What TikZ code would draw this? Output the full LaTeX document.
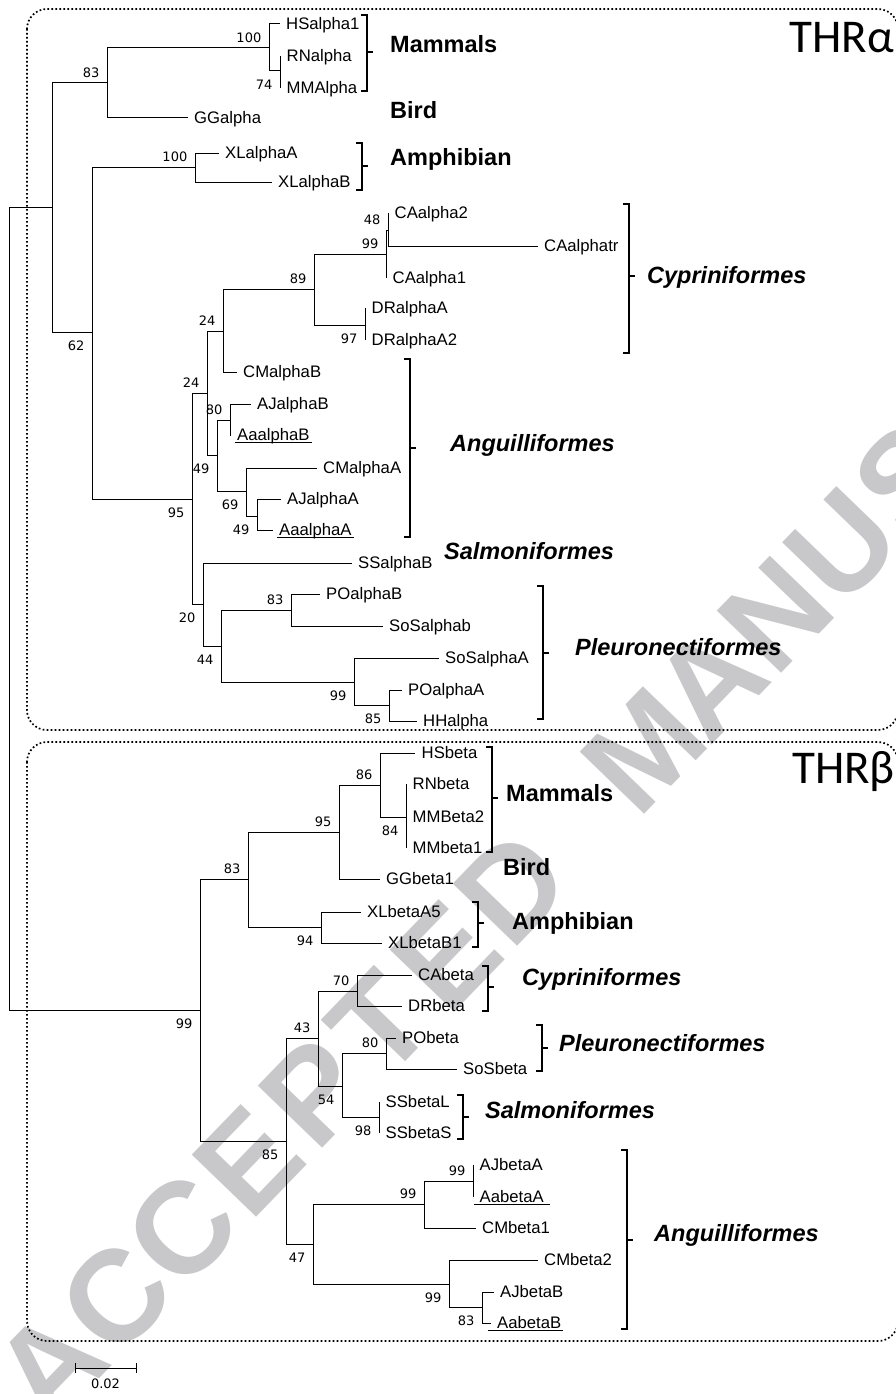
\documentclass[tikz,border=0pt]{standalone}
\usepackage{fontspec}
\setmainfont{Liberation Sans}
\newfontfamily\bsfont{DejaVu Sans}
\newfontfamily\thrfont{Carlito}
\usetikzlibrary{calc}
\definecolor{wm}{RGB}{200,200,202}
\begin{document}
\begin{tikzpicture}[x=1pt,y=-1pt,
  br/.style={line width=1pt,black},
  brk/.style={line width=1.4pt,black},
  box/.style={line width=1.7pt,dash pattern=on 1.7pt off 2.3pt,rounded corners=20pt},
  tax/.style={anchor=west,inner xsep=6.5pt,inner ysep=0pt,text height=11.9pt,text depth=0pt,font=\fontsize{16.7}{18}\selectfont},
  bs/.style={anchor=east,inner sep=0pt,text height=9.3pt,text depth=0pt,font=\bsfont\fontsize{13}{14}\selectfont,xshift=-7.5pt},
  bsa/.style={bs,yshift=10.5pt},
  bsb/.style={bs,yshift=-14pt},
  grp/.style={anchor=west,inner sep=0pt,text height=16.8pt,text depth=0pt,font=\bfseries\fontsize{23.5}{26}\selectfont},
  grpi/.style={grp,font=\bfseries\itshape\fontsize{23.5}{26}\selectfont},
  thr/.style={anchor=east,inner sep=0pt,text height=30pt,text depth=0pt,font=\thrfont\fontsize{47}{50}\selectfont},
  wmch/.style={inner sep=0pt,text=wm,font=\bfseries\fontsize{130}{130}\selectfont},
  ul/.style={line width=0.9pt}
]
\useasboundingbox (0,0) rectangle (896,1394);

% watermark
\coordinate (wmA) at (50,1366);
\foreach \ch/\k [count=\i] in {A/0,C/1,C/2,E/3,P/4,T/5,E/6,D/7,M/9,A/10,N/11,U/12,S/13,C/14}
  \node[wmch,rotate=46] (wm\i) at ($(wmA)+({\k*95*cos(46)},{-\k*95*sin(46)})$) {\ch};

% dotted boxes
\draw[box] (27,9) rectangle (898,730);
\draw[box] (27,742) rectangle (898,1341);

% ---------- coordinates of internal nodes ----------
\coordinate (root) at (9.5,600);
\coordinate (nA) at (52,207);
\coordinate (nM) at (107,83);
\coordinate (mam) at (269,48);
\coordinate (n280) at (280,71);
\coordinate (nF) at (92,332);
\coordinate (amph) at (195,167);
\coordinate (nG) at (192,499);
\coordinate (nH) at (207,393);
\coordinate (n223) at (223,331);
\coordinate (n314) at (314,289);
\coordinate (n386) at (386,254);
\coordinate (n388) at (388,230);
\coordinate (n365) at (365,325);
\coordinate (n217) at (217,455);
\coordinate (n230) at (230,420);
\coordinate (n246) at (246,491);
\coordinate (n257) at (257,516);
\coordinate (n203) at (203,604);
\coordinate (n221) at (221,646);
\coordinate (n291) at (291,610);
\coordinate (n354) at (354,682);
\coordinate (n389) at (389,705);

\coordinate (nB) at (200,1010);
\coordinate (n248) at (248,879);
\coordinate (n339) at (339,832);
\coordinate (n380) at (380,785);
\coordinate (n406) at (406,817);
\coordinate (n321) at (321,927);
\coordinate (n286) at (286,1141);
\coordinate (n318) at (318,1038);
\coordinate (n357) at (357,991);
\coordinate (n342) at (342,1086);
\coordinate (n386b) at (386,1053);
\coordinate (n379) at (379,1117);
\coordinate (n313) at (313,1244);
\coordinate (n424) at (424,1204);
\coordinate (n473) at (473,1181);
\coordinate (n449) at (449,1284);
\coordinate (n482) at (482,1307);

% ---------- leaves ----------
\node[tax] (HSa1) at (279.5,24) {HSalpha1};
\node[tax] (RNa) at (280,56) {RNalpha};
\node[tax] (MMa) at (280,88) {MMAlpha};
\node[tax] (GGa) at (187.5,118) {GGalpha};
\node[tax] (XLaA) at (218.5,153) {XLalphaA};
\node[tax] (XLaB) at (271.5,182) {XLalphaB};
\node[tax] (CAa2) at (388,213) {CAalpha2};
\node[tax] (CAatr) at (537.5,246) {CAalphatr};
\node[tax] (CAa1) at (386,278) {CAalpha1};
\node[tax] (DRaA) at (365,308) {DRalphaA};
\node[tax] (DRaA2) at (365,340) {DRalphaA2};
\node[tax] (CMaB) at (236.5,372) {CMalphaB};
\node[tax] (AJaB) at (250.5,404) {AJalphaB};
\node[tax] (AaaB) at (230.5,435) {AaalphaB};
\node[tax] (CMaA) at (316.5,468) {CMalphaA};
\node[tax] (AJaA) at (280.5,499) {AJalphaA};
\node[tax] (AaaA) at (272.5,530) {AaalphaA};
\node[tax] (SSaB) at (351.5,563) {SSalphaB};
\node[tax] (POaB) at (319.5,594) {POalphaB};
\node[tax] (SoSab) at (382.5,626) {SoSalphab};
\node[tax] (SoSaA) at (438.5,658) {SoSalphaA};
\node[tax] (POaA) at (401.5,690) {POalphaA};
\node[tax] (HHa) at (416.5,721) {HHalpha};

\node[tax] (HSb) at (415,753) {HSbeta};
\node[tax] (RNb) at (406,784) {RNbeta};
\node[tax] (MMb2) at (406,817) {MMBeta2};
\node[tax] (MMb1) at (406,848) {MMbeta1};
\node[tax] (GGb) at (379.5,879) {GGbeta1};
\node[tax] (XLbA5) at (360.5,912) {XLbetaA5};
\node[tax] (XLbB1) at (381.5,943) {XLbetaB1};
\node[tax] (CAb) at (411.5,975) {CAbeta};
\node[tax] (DRb) at (401.5,1006) {DRbeta};
\node[tax] (POb) at (395.5,1038) {PObeta};
\node[tax] (SoSb) at (456.5,1069) {SoSbeta};
\node[tax] (SSbL) at (379,1102) {SSbetaL};
\node[tax] (SSbS) at (379,1133) {SSbetaS};
\node[tax] (AJbA) at (473,1165) {AJbetaA};
\node[tax] (AabA) at (473,1197) {AabetaA};
\node[tax] (CMb1) at (475.5,1228) {CMbeta1};
\node[tax] (CMb2) at (537.5,1260) {CMbeta2};
\node[tax] (AJbB) at (493.5,1292) {AJbetaB};
\node[tax] (AabB) at (490.5,1323) {AabetaB};

% underlines
\draw[ul] ([xshift=4.5pt,yshift=-1.5pt]AaaB.base west) -- ([xshift=-4.5pt,yshift=-1.5pt]AaaB.base east);
\draw[ul] ([xshift=4.5pt,yshift=-1.5pt]AaaA.base west) -- ([xshift=-4.5pt,yshift=-1.5pt]AaaA.base east);
\draw[ul] ([xshift=0.5pt,yshift=-1pt]AabA.base west) -- ([xshift=-0.5pt,yshift=-1pt]AabA.base east);
\draw[ul] ([xshift=-3pt,yshift=-1pt]AabB.base west) -- ([xshift=-4.5pt,yshift=-1pt]AabB.base east);

% ---------- branches ----------
\draw[br] (root) |- (nA);
\draw[br] (root) |- (nB);
% alpha
\draw[br] (nA) |- (nM);
\draw[br] (nA) |- (nF);
\draw[br] (nM) |- (mam);
\draw[br] (nM) |- (GGa.west);
\draw[br] (mam) |- (HSa1.west);
\draw[br] (mam) |- (n280);
\draw[br] (n280) |- (RNa.west);
\draw[br] (n280) |- (MMa.west);
\draw[br] (nF) |- (amph);
\draw[br] (nF) |- (nG);
\draw[br] (amph) |- (XLaA.west);
\draw[br] (amph) |- (XLaB.west);
\draw[br] (nG) |- (nH);
\draw[br] (nG) |- (n203);
\draw[br] (nH) |- (n223);
\draw[br] (nH) |- (n217);
\draw[br] (n223) |- (n314);
\draw[br] (n223) |- (CMaB.west);
\draw[br] (n314) |- (n386);
\draw[br] (n314) |- (n365);
\draw[br] (n386) |- (n388);
\draw[br] (n386) |- (CAa1.west);
\draw[br] (n388) |- (CAa2.west);
\draw[br] (n388) |- (CAatr.west);
\draw[br] (n365) |- (DRaA.west);
\draw[br] (n365) |- (DRaA2.west);
\draw[br] (n217) |- (n230);
\draw[br] (n217) |- (n246);
\draw[br] (n230) |- (AJaB.west);
\draw[br] (n230) |- (AaaB.west);
\draw[br] (n246) |- (CMaA.west);
\draw[br] (n246) |- (n257);
\draw[br] (n257) |- (AJaA.west);
\draw[br] (n257) |- (AaaA.west);
\draw[br] (n203) |- (SSaB.west);
\draw[br] (n203) |- (n221);
\draw[br] (n221) |- (n291);
\draw[br] (n221) |- (n354);
\draw[br] (n291) |- (POaB.west);
\draw[br] (n291) |- (SoSab.west);
\draw[br] (n354) |- (SoSaA.west);
\draw[br] (n354) |- (n389);
\draw[br] (n389) |- (POaA.west);
\draw[br] (n389) |- (HHa.west);
% beta
\draw[br] (nB) |- (n248);
\draw[br] (nB) |- (n286);
\draw[br] (n248) |- (n339);
\draw[br] (n248) |- (n321);
\draw[br] (n339) |- (n380);
\draw[br] (n339) |- (GGb.west);
\draw[br] (n380) |- (HSb.west);
\draw[br] (n380) |- (n406);
\draw[br] (n406) |- (RNb.west);
\draw[br] (n406) |- (MMb2.west);
\draw[br] (n406) |- (MMb1.west);
\draw[br] (n321) |- (XLbA5.west);
\draw[br] (n321) |- (XLbB1.west);
\draw[br] (n286) |- (n318);
\draw[br] (n286) |- (n313);
\draw[br] (n318) |- (n357);
\draw[br] (n318) |- (n342);
\draw[br] (n357) |- (CAb.west);
\draw[br] (n357) |- (DRb.west);
\draw[br] (n342) |- (n386b);
\draw[br] (n342) |- (n379);
\draw[br] (n386b) |- (POb.west);
\draw[br] (n386b) |- (SoSb.west);
\draw[br] (n379) |- (SSbL.west);
\draw[br] (n379) |- (SSbS.west);
\draw[br] (n313) |- (n424);
\draw[br] (n313) |- (n449);
\draw[br] (n424) |- (n473);
\draw[br] (n424) |- (CMb1.west);
\draw[br] (n473) |- (AJbA.west);
\draw[br] (n473) |- (AabA.west);
\draw[br] (n449) |- (CMb2.west);
\draw[br] (n449) |- (n482);
\draw[br] (n482) |- (AJbB.west);
\draw[br] (n482) |- (AabB.west);

% ---------- bootstrap values ----------
\node[bsa] (bM) at (nM) {83};
\node[bsa] (bmam) at (mam) {100};
\node[bsb] (b280) at (n280) {74};
\node[bsb] (bF) at (nF) {62};
\node[bsa] (bamph) at (amph) {100};
\node[bsb] (bG) at (nG) {95};
\node[bsa] (bH) at (nH) {24};
\node[bsa] (b223) at (n223) {24};
\node[bsa] (b314) at (n314) {89};
\node[bsa] (b386) at (n386) {99};
\node[bsa] (b388) at (n388) {48};
\node[bsb] (b365) at (n365) {97};
\node[bsb] (b217) at (n217) {49};
\node[bsa] (b230) at (n230) {80};
\node[bsb] (b246) at (n246) {69};
\node[bsb] (b257) at (n257) {49};
\node[bsb] (b203) at (n203) {20};
\node[bsb] (b221) at (n221) {44};
\node[bsa] (b291) at (n291) {83};
\node[bsb] (b354) at (n354) {99};
\node[bsb] (b389) at (n389) {85};

\node[bsb] (bB) at (nB) {99};
\node[bsa] (b248) at (n248) {83};
\node[bsa] (b339) at (n339) {95};
\node[bsa] (b380) at (n380) {86};
\node[bsb] (b406) at (n406) {84};
\node[bsb] (b321) at (n321) {94};
\node[bsb] (b286) at (n286) {85};
\node[bsa] (b318) at (n318) {43};
\node[bsa] (b357) at (n357) {70};
\node[bsb] (b342) at (n342) {54};
\node[bsa] (b386b) at (n386b) {80};
\node[bsb] (b379) at (n379) {98};
\node[bsb] (b313) at (n313) {47};
\node[bsa] (b424) at (n424) {99};
\node[bsa] (b473) at (n473) {99};
\node[bsb] (b449) at (n449) {99};
\node[bsb] (b482) at (n482) {83};

% ---------- brackets ----------
\draw[brk] (361,15) -- (367,15) -- (367,91) -- (361,91) (367,52) -- (373,52);
\draw[brk] (356,143) -- (362,143) -- (362,190) -- (356,190) (362,166) -- (368,166);
\draw[brk] (623,204) -- (629,204) -- (629,353) -- (623,353) (629,276) -- (635,276);
\draw[brk] (404,359) -- (410,359) -- (410,537) -- (404,537) (410,448) -- (416,448);
\draw[brk] (537,586) -- (543,586) -- (543,719) -- (537,719) (543,653) -- (549,653);

\draw[brk] (486,747) -- (492,747) -- (492,852) -- (486,852) (492,798) -- (498,798);
\draw[brk] (472,902) -- (478,902) -- (478,947) -- (472,947) (478,923) -- (484,923);
\draw[brk] (482,966) -- (488,966) -- (488,1011) -- (482,1011) (488,987) -- (494,987);
\draw[brk] (536,1025) -- (542,1025) -- (542,1071) -- (536,1071) (542,1048) -- (548,1048);
\draw[brk] (457,1095) -- (463,1095) -- (463,1139) -- (457,1139) (463,1117) -- (469,1117);
\draw[brk] (621,1150) -- (627,1150) -- (627,1329) -- (621,1329) (627,1240) -- (633,1240);

% ---------- group labels ----------
\node[grp] (gMa) at (390,44) {Mammals};
\node[grp] (gBa) at (390,110) {Bird};
\node[grp] (gAa) at (390,157) {Amphibian};
\node[grpi] (gCa) at (647,275) {Cypriniformes};
\node[grpi] (gAna) at (450,443) {Anguilliformes};
\node[grpi] (gSa) at (444,551) {Salmoniformes};
\node[grpi] (gPa) at (575,647) {Pleuronectiformes};

\node[grp] (gMb) at (506,793) {Mammals};
\node[grp] (gBb) at (503,867) {Bird};
\node[grp] (gAb) at (512,921) {Amphibian};
\node[grpi] (gCb) at (522,977) {Cypriniformes};
\node[grpi] (gPb) at (559,1043) {Pleuronectiformes};
\node[grpi] (gSb) at (485,1110) {Salmoniformes};
\node[grpi] (gAnb) at (654,1233) {Anguilliformes};

\node[thr] (thra) at (894,37.5) {THRα};
\node[thr] (thrb) at (895,768) {THRβ};

% ---------- scale bar ----------
\coordinate (sb1) at (75,1368);
\coordinate (sb2) at (136,1368);
\draw[br] (sb1) -- (sb2);
\draw[br] ([yshift=5pt]sb1) -- ([yshift=-5pt]sb1);
\draw[br] ([yshift=5pt]sb2) -- ([yshift=-5pt]sb2);
\node[inner sep=0pt,text height=9.3pt,text depth=0pt,font=\bsfont\fontsize{13}{14}\selectfont] (sbl) at (105.5,1384) {0.02};
\end{tikzpicture}
\end{document}
